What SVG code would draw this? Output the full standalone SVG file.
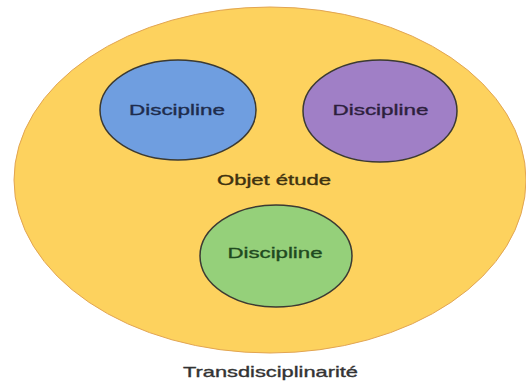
<svg xmlns="http://www.w3.org/2000/svg" width="526" height="381" viewBox="0 0 526 381">
  <style>
    .lbl { font-family: "Liberation Sans", Arial, sans-serif; font-size: 15px; text-anchor: middle; stroke-width: 0.35; }
    .disc { stroke: #3b3a33; stroke-width: 1.5; }
  </style>
  <rect width="526" height="381" fill="#ffffff"/>
  <g id="transdisciplinarite">
    <ellipse cx="270" cy="180" rx="256" ry="173" fill="#fdd25e" stroke="#e2a552" stroke-width="1"/>
    <text class="lbl" x="270.5" y="377" fill="#333333" stroke="#333333" textLength="175" lengthAdjust="spacingAndGlyphs">Transdisciplinarité</text>
  </g>
  <g id="objet">
    <text class="lbl" x="274" y="185" fill="#3f3210" stroke="#3f3210" textLength="114" lengthAdjust="spacingAndGlyphs">Objet étude</text>
  </g>
  <g id="discipline-blue">
    <ellipse class="disc" cx="178" cy="110" rx="78" ry="50" fill="#6f9ee0"/>
    <text class="lbl" x="177" y="115" fill="#1e2c4c" stroke="#1e2c4c" textLength="96" lengthAdjust="spacingAndGlyphs">Discipline</text>
  </g>
  <g id="discipline-purple">
    <ellipse class="disc" cx="380" cy="111" rx="77" ry="51" fill="#a07fc6"/>
    <text class="lbl" x="380.5" y="115" fill="#2d1f3d" stroke="#2d1f3d" textLength="96" lengthAdjust="spacingAndGlyphs">Discipline</text>
  </g>
  <g id="discipline-green">
    <ellipse class="disc" cx="276" cy="256" rx="76" ry="51" fill="#95d07a"/>
    <text class="lbl" x="275" y="258" fill="#1f4a1f" stroke="#1f4a1f" textLength="95" lengthAdjust="spacingAndGlyphs">Discipline</text>
  </g>
  <g id="connectors"></g>
</svg>
